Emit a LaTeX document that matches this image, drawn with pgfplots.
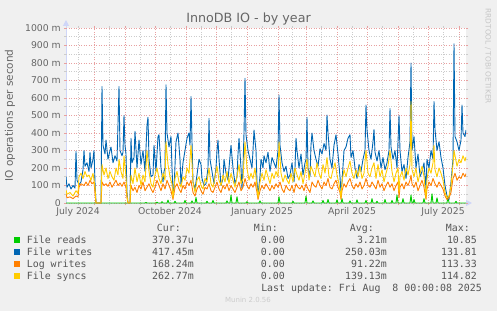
\documentclass[border=0pt]{standalone}
\usepackage{pgfplots}
\pgfplotsset{compat=1.18}
\usepackage{fontspec}
\setmainfont{DejaVu Sans}
\setmonofont{DejaVu Sans Mono}
\usetikzlibrary{arrows.meta}
\definecolor{bgc}{HTML}{F0F0F0}
\definecolor{fontc}{HTML}{666666}
\definecolor{legc}{HTML}{555555}
\definecolor{axc}{HTML}{CFD6F8}
\definecolor{mgrid}{HTML}{E8A0A0}
\definecolor{gridc}{HTML}{CCCCCC}
\definecolor{cReads}{HTML}{00CC00}
\definecolor{cWrites}{HTML}{0066B3}
\definecolor{cLog}{HTML}{FF8000}
\definecolor{cSync}{HTML}{FFCC00}
\begin{document}
\begin{tikzpicture}[x=1pt,y=1pt]
\fill[bgc] (0,0) rectangle (497,311);
\fill[white] (66,108) rectangle (466,283);
\draw[axc, line width=1pt, -{Triangle[length=6pt,width=6pt]}] (66,108) -- (66,291);
\draw[axc, line width=1pt, -{Triangle[length=6pt,width=6pt]}] (66,108) -- (472,108);
\begin{axis}[
  at={(66pt,108pt)}, anchor=south west,
  scale only axis, width=400pt, height=175pt,
  xmin=66, xmax=466, ymin=0, ymax=1000,
  axis line style={draw=none},
  clip=true,
  xtick={94,125,155,186,216,247,278,306,337,367,398,428,459},
  xticklabels={},
  minor xtick={78,109,140,170,201,231,262,292,321,352,382,413,443},
  ytick={0,100,200,300,400,500,600,700,800,900,1000},
  yticklabels={0,100 m,200 m,300 m,400 m,500 m,600 m,700 m,800 m,900 m,1000 m},
  minor ytick={50,150,250,350,450,550,650,750,850,950},
  grid=both,
  major grid style={dash pattern=on 1pt off 1.5pt, line width=0.7pt, color=mgrid},
  minor grid style={dash pattern=on 1pt off 1.5pt, line width=0.7pt, color=gridc},
  tick align=outside, major tick length=2pt, minor tick length=2pt,
  major tick style={mgrid, line width=0.7pt}, minor tick style={gridc, line width=0.7pt},
  extra x ticks={78,170,262,352,443},
  extra x tick labels={July 2024,October 2024,January 2025,April 2025,July 2025},
  extra x tick style={grid=none, major tick length=0pt},
  xticklabel style={anchor=north, inner sep=0pt, yshift=-4.5pt, font=\fontsize{9.3}{10}\selectfont, text=fontc},
  yticklabel style={anchor=east, inner sep=0pt, xshift=-3pt, font=\fontsize{9.3}{10}\selectfont, text=fontc},
]
\addplot[cReads, line width=0.9pt, line join=round] coordinates {
(66,0)(145,0)(146,3)(147,0)(156,0)(157,5)(158,0)(161,0)(162,8)(163,0)(167,0)(168,17)(169,0)(174,0)(175,10)(176,0)(184,0)(185,15)(186,0)(191,0)(192,12)(193,0)(195,0)(196,32)(197,0)(206,0)(207,10)(208,0)(212,0)(213,15)(214,0)(226,0)(227,12)(228,0)(230,0)(231,46)(232,0)(236,0)(237,36)(238,0)(246,0)(247,8)(248,0)(259,0)(260,12)(261,0)(278,0)(279,36)(280,0)(292,0)(293,10)(294,0)(305,0)(306,40)(307,0)(312,0)(313,12)(314,0)(322,0)(323,15)(324,0)(327,0)(328,20)(329,0)(336,0)(337,18)(338,0)(341,0)(342,25)(343,0)(349,0)(350,12)(351,0)(356,0)(357,18)(358,0)(365,0)(366,15)(367,0)(371,0)(372,25)(373,0)(376,0)(377,10)(378,0)(384,0)(385,20)(386,0)(391,0)(392,15)(393,0)(396,0)(397,46)(398,0)(402,0)(403,25)(404,0)(410,0)(411,46)(412,0)(413,0)(414,20)(415,0)(423,0)(424,25)(425,0)(431,0)(432,53)(433,0)(436,0)(437,30)(438,0)(447,0)(448,40)(449,0)(455,0)(456,10)(457,0)(466,0)
};
\addplot[cWrites, line width=0.9pt, line join=round] coordinates {
(66,150)(67,90)(69,110)(71,80)(73,100)(75,85)(76,295)(77,130)(79,105)(81,120)(83,190)(84,300)(85,210)(87,230)(89,180)(90,290)(91,200)(93,250)(94,300)(95,120)(96,0)(101,0)(102,665)(103,330)(105,280)(106,360)(108,250)(110,300)(111,320)(113,230)(115,270)(117,240)(119,665)(120,300)(122,270)(123,290)(124,500)(125,330)(126,280)(127,60)(128,0)(130,0)(131,370)(132,230)(134,260)(135,410)(137,200)(139,360)(141,220)(143,300)(145,180)(147,445)(148,490)(149,250)(151,150)(153,160)(154,330)(156,180)(158,380)(159,390)(161,200)(163,120)(164,180)(165,200)(166,675)(167,400)(169,320)(171,380)(172,200)(173,60)(174,80)(176,350)(178,400)(180,250)(181,100)(183,230)(185,300)(187,370)(189,400)(190,330)(191,608)(192,350)(193,120)(195,80)(197,160)(199,250)(201,220)(202,140)(204,100)(206,110)(208,200)(209,484)(210,250)(212,180)(214,110)(216,200)(217,300)(218,360)(219,250)(221,100)(223,140)(224,250)(226,170)(228,130)(229,200)(231,330)(233,200)(235,110)(237,150)(238,280)(239,370)(241,200)(242,80)(243,200)(244,400)(245,712)(246,390)(248,300)(250,250)(252,200)(253,300)(254,417)(256,300)(257,120)(258,50)(260,150)(261,250)(263,200)(264,270)(266,230)(268,290)(270,180)(272,260)(274,230)(276,200)(278,300)(279,617)(280,330)(282,230)(284,180)(286,210)(288,140)(290,160)(292,230)(294,120)(295,200)(296,370)(297,300)(299,200)(301,280)(303,160)(305,230)(306,250)(307,490)(308,200)(310,150)(311,330)(312,400)(314,300)(316,250)(318,210)(320,310)(322,280)(324,340)(326,300)(327,503)(328,400)(330,250)(332,200)(334,330)(336,390)(338,280)(340,150)(341,60)(342,120)(344,300)(346,320)(348,370)(350,390)(351,260)(353,300)(355,200)(357,140)(359,220)(361,180)(363,250)(365,300)(366,560)(367,420)(369,300)(371,250)(373,350)(374,420)(375,290)(377,240)(379,300)(381,200)(383,260)(385,190)(387,230)(389,300)(390,540)(391,320)(393,250)(395,300)(397,200)(399,500)(400,300)(402,180)(404,220)(406,140)(408,260)(410,350)(411,800)(412,300)(414,380)(416,200)(418,280)(420,150)(422,180)(424,230)(426,80)(427,250)(429,200)(431,300)(433,250)(434,580)(435,420)(437,300)(439,350)(441,260)(443,200)(445,100)(447,40)(449,20)(451,120)(453,250)(454,910)(455,380)(457,350)(459,300)(461,360)(462,560)(463,400)(465,380)(466,417)
};
\addplot[cLog, line width=0.9pt, line join=round] coordinates {
(66,55)(67,30)(70,35)(73,25)(76,40)(78,35)(79,90)(81,110)(84,100)(86,120)(88,100)(90,130)(92,110)(94,120)(95,60)(96,0)(101,0)(102,120)(104,100)(106,110)(108,95)(110,120)(112,90)(114,110)(116,130)(118,100)(120,115)(122,95)(124,120)(126,90)(127,30)(128,0)(130,0)(131,100)(133,70)(135,90)(137,60)(139,100)(141,80)(143,120)(145,70)(147,90)(149,110)(151,80)(153,60)(155,90)(157,130)(159,100)(161,70)(163,110)(165,80)(167,130)(169,100)(171,70)(173,20)(175,90)(177,110)(179,80)(181,60)(183,100)(185,80)(187,120)(189,100)(191,130)(193,60)(195,40)(197,80)(199,100)(201,70)(203,50)(205,90)(207,80)(209,110)(211,70)(213,60)(215,90)(217,120)(219,80)(221,60)(223,100)(225,80)(227,110)(229,70)(231,100)(233,80)(235,60)(237,90)(239,120)(241,70)(243,90)(245,140)(247,100)(249,80)(251,110)(253,90)(255,120)(257,60)(258,20)(260,70)(262,100)(264,80)(266,110)(268,90)(270,70)(272,100)(274,80)(276,110)(278,90)(280,120)(282,80)(284,60)(286,100)(288,80)(290,70)(292,100)(294,60)(296,110)(298,90)(300,80)(302,100)(304,70)(306,110)(308,80)(310,60)(312,120)(314,100)(316,90)(318,130)(320,100)(322,80)(324,120)(326,100)(328,140)(330,90)(332,80)(334,110)(336,130)(338,90)(340,60)(341,20)(342,70)(344,110)(346,90)(348,120)(350,140)(352,100)(354,80)(356,110)(358,90)(360,120)(362,80)(364,100)(366,140)(368,100)(370,90)(372,120)(374,100)(376,80)(378,130)(380,90)(382,110)(384,70)(386,100)(388,120)(390,90)(392,110)(394,70)(396,100)(398,120)(399,30)(400,90)(402,110)(404,80)(406,120)(408,100)(410,130)(411,160)(412,110)(414,90)(416,120)(418,70)(420,100)(422,130)(424,90)(426,20)(427,80)(429,120)(431,100)(433,140)(435,110)(437,90)(439,120)(441,100)(443,80)(445,40)(447,20)(449,30)(451,60)(453,140)(455,170)(457,130)(459,150)(461,140)(463,170)(465,150)(466,168)
};
\addplot[cSync, line width=0.9pt, line join=round] coordinates {
(66,75)(67,50)(70,60)(73,40)(76,70)(78,55)(79,150)(81,170)(83,140)(85,180)(87,150)(89,160)(91,130)(93,170)(95,90)(96,0)(101,0)(102,220)(104,160)(106,200)(108,140)(110,180)(112,150)(114,130)(116,200)(118,160)(119,250)(121,180)(123,140)(124,270)(126,150)(127,40)(128,0)(130,0)(131,160)(133,110)(135,200)(137,120)(139,170)(141,100)(143,160)(145,120)(147,300)(149,180)(151,110)(153,90)(155,160)(157,200)(159,140)(161,110)(163,170)(165,130)(166,350)(168,220)(170,150)(172,110)(173,30)(175,140)(177,180)(179,120)(181,90)(183,150)(185,130)(187,200)(189,170)(191,330)(193,120)(195,60)(197,130)(199,150)(201,100)(203,80)(205,140)(207,120)(209,200)(211,110)(213,90)(215,150)(217,210)(219,130)(221,100)(223,160)(225,120)(227,180)(229,110)(231,170)(233,130)(235,90)(237,150)(239,220)(241,110)(243,140)(245,350)(247,200)(249,130)(251,170)(253,140)(255,200)(257,90)(258,30)(260,120)(262,170)(264,130)(266,190)(268,150)(270,110)(272,170)(274,140)(276,180)(278,150)(279,350)(281,170)(283,120)(285,160)(287,130)(289,110)(291,170)(293,120)(295,200)(297,160)(299,130)(301,180)(303,110)(305,170)(307,250)(309,130)(311,210)(313,180)(315,150)(317,230)(319,170)(321,140)(323,220)(325,170)(327,260)(329,150)(331,140)(333,190)(335,230)(337,160)(339,110)(341,30)(342,120)(344,190)(346,150)(348,200)(350,240)(352,170)(354,140)(356,190)(358,150)(360,210)(362,140)(364,170)(366,300)(368,170)(370,150)(372,200)(374,230)(376,140)(378,220)(380,150)(382,190)(384,120)(386,170)(388,210)(390,300)(392,180)(394,120)(396,170)(398,200)(399,60)(400,150)(402,180)(404,130)(406,200)(408,160)(410,220)(411,580)(412,190)(414,150)(416,200)(418,120)(420,170)(422,210)(424,150)(426,30)(427,140)(429,200)(431,170)(433,230)(434,330)(435,190)(437,150)(439,200)(441,170)(443,130)(445,60)(447,30)(449,40)(451,100)(453,220)(454,300)(455,270)(457,210)(459,250)(461,230)(463,270)(465,240)(466,263)
};
\end{axis}
% titles
\node[text=fontc, font=\fontsize{12.7}{14}\selectfont] at (248.5,292) {InnoDB IO - by year};
\node[text=fontc, font=\fontsize{10.5}{12}\selectfont, rotate=90] at (10,195.5) {IO operations per second};
\node[text=gray!45, font=\fontsize{7.4}{8}\selectfont, rotate=-90, anchor=west] at (488,306) {RRDTOOL / TOBI OETIKER};
% legend
\begin{scope}[every node/.style={inner sep=0pt, text=legc, font=\ttfamily\fontsize{9.9}{11}\selectfont}]
\node[anchor=base east] at (181,79.4) {Cur:};
\node[anchor=base east] at (278,79.4) {Min:};
\node[anchor=base east] at (374,79.4) {Avg:};
\node[anchor=base east] at (470,79.4) {Max:};
% rows
\fill[cReads] (14,68) rectangle (20,74);
\node[anchor=base west] at (26.7,67.4) {File reads};
\node[anchor=base east] at (194,67.4) {370.37u};
\node[anchor=base east] at (285,67.4) {0.00};
\node[anchor=base east] at (387,67.4) {3.21m};
\node[anchor=base east] at (477,67.4) {10.85};
\fill[cWrites] (14,56) rectangle (20,62);
\node[anchor=base west] at (26.7,55.4) {File writes};
\node[anchor=base east] at (194,55.4) {417.45m};
\node[anchor=base east] at (285,55.4) {0.00};
\node[anchor=base east] at (387,55.4) {250.03m};
\node[anchor=base east] at (477,55.4) {131.81};
\fill[cLog] (14,44) rectangle (20,50);
\node[anchor=base west] at (26.7,43.4) {Log writes};
\node[anchor=base east] at (194,43.4) {168.24m};
\node[anchor=base east] at (285,43.4) {0.00};
\node[anchor=base east] at (387,43.4) {91.22m};
\node[anchor=base east] at (477,43.4) {113.33};
\fill[cSync] (14,32) rectangle (20,38);
\node[anchor=base west] at (26.7,31.4) {File syncs};
\node[anchor=base east] at (194,31.4) {262.77m};
\node[anchor=base east] at (285,31.4) {0.00};
\node[anchor=base east] at (387,31.4) {139.13m};
\node[anchor=base east] at (477,31.4) {114.82};
\node[anchor=base east] at (482,19.4) {Last update: Fri Aug\ \ 8 00:00:08 2025};
\end{scope}
\node[text=gray!40, font=\fontsize{7}{8}\selectfont] at (248,11) {Munin 2.0.56};
\end{tikzpicture}
\end{document}
